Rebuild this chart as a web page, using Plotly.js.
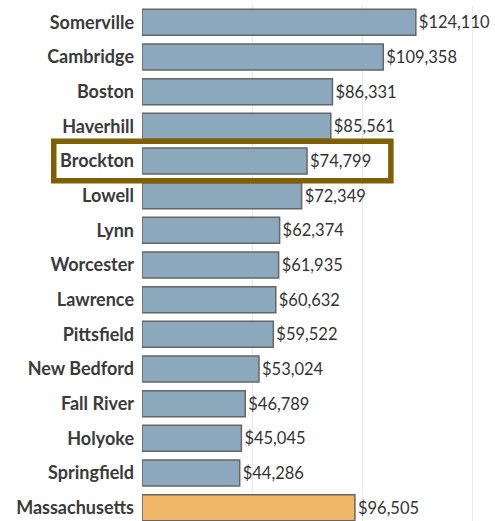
<!DOCTYPE html>
<html>
<head>
<meta charset="utf-8">
<script src="https://cdn.plot.ly/plotly-3.0.1.min.js"></script>
<style>html,body{margin:0;padding:0;background:#fff;}#chart{width:495px;height:521px;}</style>
</head>
<body>
<div id="chart"></div>
<script>
const cities = ["Somerville","Cambridge","Boston","Haverhill","Brockton","Lowell","Lynn","Worcester","Lawrence","Pittsfield","New Bedford","Fall River","Holyoke","Springfield","Massachusetts"];
const values = [124110,109358,86331,85561,74799,72349,62374,61935,60632,59522,53024,46789,45045,44286,96505];
const highlight = "Brockton";
const stateName = "Massachusetts";

const cityColor = "#8BA8BD";
const stateColor = "#F2B766";
const colors = cities.map(c => c === stateName ? stateColor : cityColor);
const labels = values.map(v => "$" + v.toLocaleString("en-US"));
const hi = cities.indexOf(highlight);

const trace = {
  type: "bar",
  orientation: "h",
  y: cities,
  x: values,
  text: labels,
  textposition: "outside",
  cliponaxis: false,
  textfont: {family: "Lato, 'Liberation Sans', sans-serif", size: 16.5, color: "#333333"},
  marker: {color: colors, line: {color: "#666666", width: 1.5}},
  width: 0.75,
  hoverinfo: "none"
};

const layout = {
  width: 495, height: 521,
  margin: {l: 142, r: 0, t: 5, b: 0},
  paper_bgcolor: "#ffffff", plot_bgcolor: "#ffffff",
  showlegend: false,
  font: {family: "Lato, 'Liberation Sans', sans-serif", color: "#333333"},
  xaxis: {range: [0, 160000], dtick: 50000, showticklabels: false, showgrid: true,
          gridcolor: "#e9e9e9", gridwidth: 1, zeroline: false, showline: false, ticks: ""},
  yaxis: {type: "category", range: [14.385, -0.5], showgrid: false, zeroline: false, showline: false,
          ticks: "", ticklabelstandoff: 7,
          tickfont: {family: "Lato, 'Liberation Sans', sans-serif", size: 18, color: "#3a3a3a", weight: "bold"}},
  shapes: [{type: "rect", xref: "paper", yref: "y",
            x0: -0.25, x1: 0.705, y0: hi - 0.57, y1: hi + 0.57,
            line: {color: "#7F6000", width: 5.5}, fillcolor: "rgba(0,0,0,0)", layer: "above"}]
};

Plotly.newPlot("chart", [trace], layout, {staticPlot: true, displayModeBar: false});
</script>
</body>
</html>
